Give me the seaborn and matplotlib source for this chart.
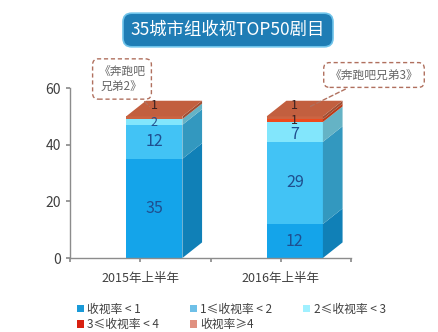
import matplotlib
matplotlib.use("Agg")
import matplotlib.pyplot as plt
import seaborn as sns
import pandas as pd
import numpy as np
from matplotlib.patches import Polygon, Patch
import matplotlib.colors as mcolors

periods = ["2015年上半年", "2016年上半年"]
layers = ["收视率 < 1", "1≤收视率 < 2", "2≤收视率 < 3", "3≤收视率 < 4", "收视率≥4"]
v_lt1 = [35, 12]
v_1to2 = [12, 29]
v_2to3 = [2, 7]
v_3to4 = [0, 1]
v_ge4 = [1, 1]
yticks = [0, 20, 40, 60]
title = "35城市组收视TOP50剧目"
callouts = ["《奔跑吧\n兄弟2》", "《奔跑吧兄弟3》"]

colors = ["#14A4EA", "#42C3F5", "#82E6FC", "#EE4A1E", "#CC6442"]
legend_colors = ["#1A9AD8", "#6EC0E8", "#A0F0FF", "#D82010", "#E09080"]

sns.set_theme(style="white")
plt.rcParams["font.family"] = ["Noto Sans CJK SC", "DejaVu Sans"]

values = [v_lt1, v_1to2, v_2to3, v_3to4, v_ge4]
rows = []
for li, lay in enumerate(layers):
    for pi, per in enumerate(periods):
        rows.append(dict(period=per, layer=lay, li=li, value=values[li][pi]))
df = pd.DataFrame(rows)
df["cum"] = df.groupby("period")["value"].cumsum()
df["base"] = df["cum"] - df["value"]

fig = plt.figure(figsize=(4.39, 3.32), dpi=100)
ax = fig.add_axes([70/439, (332-258)/332, (351-70)/439, (258-88)/332])

for li in reversed(range(len(layers))):
    sub = df[df.li == li]
    sns.barplot(data=sub, x="period", y="cum", color=colors[li], order=periods,
                width=0.4, ax=ax, saturation=1, linewidth=0, zorder=2)

shift = 0.1
for p in ax.patches:
    p.set_x(p.get_x() + shift)

dx, dy = 0.14, 5.5
w = 0.4
for pi, per in enumerate(periods):
    x0 = pi - w/2 + shift
    sub = df[df.period == per]
    top_li = sub[sub.value > 0].li.max()
    for _, r in sub.iterrows():
        if r.value <= 0:
            continue
        c = np.array(mcolors.to_rgb(colors[r.li]))
        side = Polygon([(x0+w, r.base), (x0+w+dx, r.base+dy), (x0+w+dx, r.cum+dy), (x0+w, r.cum)],
                       closed=True, fc=c*0.78, ec="none", zorder=3)
        ax.add_patch(side)
        if r.li == top_li:
            topf = Polygon([(x0, r.cum), (x0+w, r.cum), (x0+w+dx, r.cum+dy), (x0+dx, r.cum+dy)],
                           closed=True, fc=c*0.95, ec="none", zorder=3)
            ax.add_patch(topf)
    # labels
    for _, r in sub.iterrows():
        if r.value <= 0:
            continue
        ymid = r.base + r.value/2
        col = "#1F4F8F"
        if r.li == 2 and r.value >= 3:
            ymid = r.base + r.value*0.36
        if r.li >= 3:
            col = "#3A2020"
            ymid = r.base + r.value*0.7
        if r.li == top_li:
            ymid = r.cum + dy*0.7
        ax.text(pi + shift, ymid, f"{int(r.value)}", ha="center", va="center",
                fontsize=11.5 if r.value >= 3 else 9, color=col, zorder=5)

ax.set_xlim(-0.5, 1.5)
ax.set_ylim(0, 60)
ax.set_yticks(yticks)
ax.set_xticks([-0.5, 0, 0.5, 1, 1.5])
ax.set_xticklabels(["", periods[0], "", periods[1], ""])
ax.set_xlabel("")
ax.set_ylabel("")
for s in ["top", "right"]:
    ax.spines[s].set_visible(False)
for s in ["left", "bottom"]:
    ax.spines[s].set_color("#8C8C8C")
    ax.spines[s].set_linewidth(1)
ax.tick_params(axis="both", which="both", direction="out", length=3, color="#8C8C8C",
               labelcolor="#404040", left=True, bottom=True)
ax.tick_params(axis="y", labelsize=10)
ax.tick_params(axis="x", labelsize=9, pad=7)

# title box
fig.text(228/439, 1 - 30/332, title, ha="center", va="center", fontsize=12.5, color="white",
         bbox=dict(boxstyle="round,pad=0.45,rounding_size=0.5", fc="#1F7DB5", ec="#6EC3EA", lw=1.2))

# callouts
tops = df.groupby("period")["cum"].max()
box_kw = dict(boxstyle="round,pad=0.5", fc="white", ec="#B0705E", ls=(0, (3, 2)), lw=1)
ax.annotate(callouts[0], xy=(0 + shift - 0.02, tops[periods[0]] + dy/2), xycoords="data",
            xytext=(122, 332-79), textcoords="figure pixels", ha="center", va="center",
            fontsize=8.5, color="#666666", linespacing=1.25, bbox=box_kw,
            arrowprops=dict(arrowstyle="-", ls=(0, (3, 2)), color="#B0705E", lw=1), zorder=6)
ax.annotate(callouts[1], xy=(1 + shift + 0.08, tops[periods[1]] + dy/2), xycoords="data",
            xytext=(374, 332-75), textcoords="figure pixels", ha="center", va="center",
            fontsize=8.5, color="#666666", bbox=box_kw,
            arrowprops=dict(arrowstyle="-", ls=(0, (3, 2)), color="#B0705E", lw=1), zorder=6)

handles = [Patch(fc=c, ec="none") for c in legend_colors]
order = [0, 3, 1, 4, 2]
leg = fig.legend([handles[i] for i in order], [layers[i] for i in order], ncol=3,
                 loc="upper left", bbox_to_anchor=(66/439, 1 - 292/332), frameon=False,
                 fontsize=8.5, handlelength=0.6, handleheight=0.6, handletextpad=0.3,
                 columnspacing=2.6, labelspacing=0.2, labelcolor="#404040")

fig.savefig("out.png", dpi=100)
